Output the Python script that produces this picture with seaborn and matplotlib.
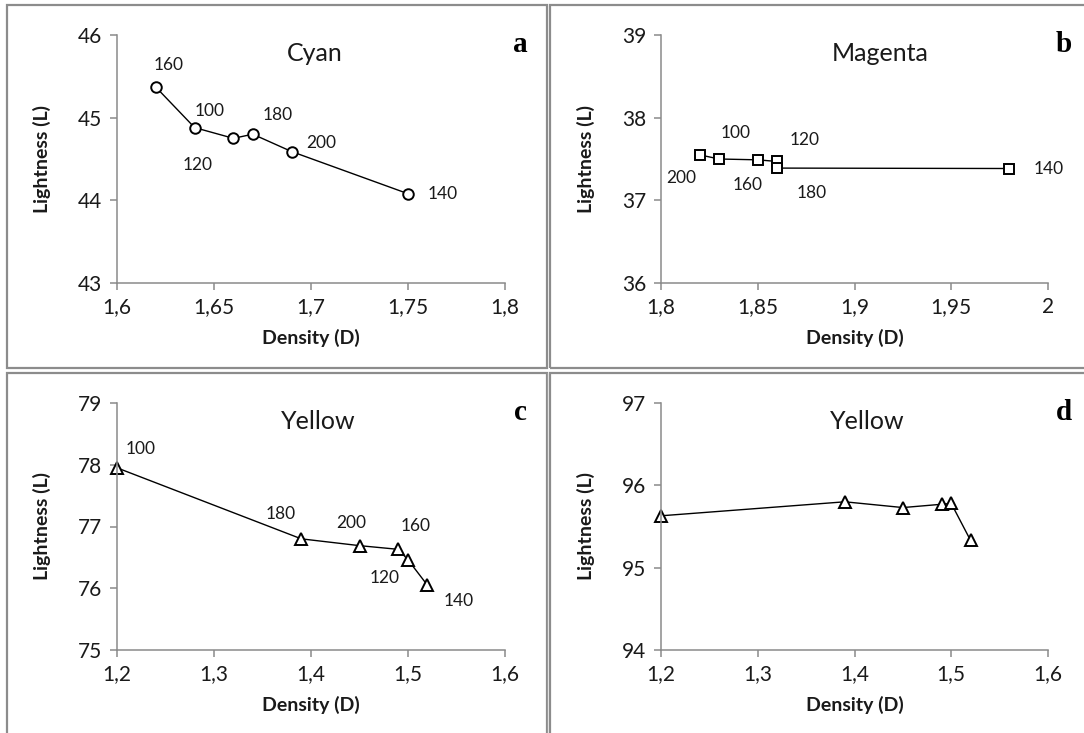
import numpy as np
import pandas as pd
import matplotlib
matplotlib.use("Agg")
import matplotlib.pyplot as plt
import seaborn as sns
from matplotlib.patches import Rectangle
from matplotlib.lines import Line2D

# ---------------- data ----------------
cyan_density = [1.62, 1.64, 1.66, 1.67, 1.69, 1.75]
cyan_lightness = [45.37, 44.88, 44.75, 44.80, 44.59, 44.08]
cyan_labels = ["160", "100", "120", "180", "200", "140"]

magenta_density = [1.82, 1.83, 1.85, 1.86, 1.86, 1.98]
magenta_lightness = [37.55, 37.50, 37.49, 37.47, 37.39, 37.385]
magenta_labels = ["200", "100", "160", "120", "180", "140"]

yellow_c_density = [1.20, 1.39, 1.45, 1.49, 1.50, 1.52]
yellow_c_lightness = [77.95, 76.80, 76.69, 76.63, 76.46, 76.05]
yellow_c_labels = ["100", "180", "200", "160", "120", "140"]

yellow_d_density = [1.20, 1.39, 1.45, 1.49, 1.50, 1.52]
yellow_d_lightness = [95.63, 95.80, 95.73, 95.77, 95.78, 95.33]

cyan_xticks = [1.6, 1.65, 1.7, 1.75, 1.8]
cyan_xticklabels = ["1,6", "1,65", "1,7", "1,75", "1,8"]
cyan_yticks = [43, 44, 45, 46]
magenta_xticks = [1.8, 1.85, 1.9, 1.95, 2.0]
magenta_xticklabels = ["1,8", "1,85", "1,9", "1,95", "2"]
magenta_yticks = [36, 37, 38, 39]
yellow_xticks = [1.2, 1.3, 1.4, 1.5, 1.6]
yellow_xticklabels = ["1,2", "1,3", "1,4", "1,5", "1,6"]
yellow_c_yticks = [75, 76, 77, 78, 79]
yellow_d_yticks = [94, 95, 96, 97]

panel_titles = ["Cyan", "Magenta", "Yellow", "Yellow"]
panel_letters = ["a", "b", "c", "d"]

# label offsets (pixels: dx right, dy up)
cyan_offsets = [(13, 22), (15, 17), (-36, -27), (25, 19), (30, 9), (35, 0)]
magenta_offsets = [(-18, -23), (17, 26), (-10, -25), (28, 21), (35, -25), (39, 0)]
yellow_c_offsets = [(24, 19), (-21, 25), (-8, 23), (17, 23), (-23, -18), (31, -16)]

# ---------------- style ----------------
sns.set_theme(style="white")
plt.rcParams["font.family"] = ["Lato", "DejaVu Sans"]

W, H = 1084, 733
fig = plt.figure(figsize=(W / 100, H / 100), dpi=100)

def fx(px):
    return px / W

def fy(py):
    return 1 - py / H

GRAY = "#8a8a8a"
px2pt = 0.72

# panel frames
frame_kw = dict(transform=fig.transFigure, fill=False, edgecolor="#8c8c8c", linewidth=1.6, zorder=0)
fig.add_artist(Rectangle((fx(7), fy(368)), fx(547) - fx(7), fy(5) - fy(368), **frame_kw))
fig.add_artist(Rectangle((fx(550), fy(368)), fx(1100) - fx(550), fy(5) - fy(368), **frame_kw))
fig.add_artist(Rectangle((fx(7), fy(745)), fx(547) - fx(7), fy(373) - fy(745), **frame_kw))
fig.add_artist(Rectangle((fx(550), fy(745)), fx(1100) - fx(550), fy(373) - fy(745), **frame_kw))

def make_ax(left, right, top, bottom):
    return fig.add_axes([fx(left), fy(bottom), fx(right) - fx(left), fy(top) - fy(bottom)])

ax_a = make_ax(117, 505, 35, 283)
ax_b = make_ax(661, 1048, 35, 283)
ax_c = make_ax(117, 505, 403, 650)
ax_d = make_ax(661, 1048, 403, 650)

specs = [
    (ax_a, cyan_density, cyan_lightness, cyan_labels, cyan_offsets, "o", 7.6,
     (1.6, 1.8), cyan_xticks, cyan_xticklabels, (43, 46), cyan_yticks, 0.51),
    (ax_b, magenta_density, magenta_lightness, magenta_labels, magenta_offsets, "s", 7.2,
     (1.8, 2.0), magenta_xticks, magenta_xticklabels, (36, 39), magenta_yticks, 0.566),
    (ax_c, yellow_c_density, yellow_c_lightness, yellow_c_labels, yellow_c_offsets, "^", 8.0,
     (1.2, 1.6), yellow_xticks, yellow_xticklabels, (75, 79), yellow_c_yticks, 0.518),
    (ax_d, yellow_d_density, yellow_d_lightness, None, None, "^", 8.0,
     (1.2, 1.6), yellow_xticks, yellow_xticklabels, (94, 97), yellow_d_yticks, 0.532),
]

for i, (ax, xs, ys, labs, offs, mk, ms, xlim, xt, xtl, ylim, yt, tx) in enumerate(specs):
    df = pd.DataFrame({"Density (D)": xs, "Lightness (L)": ys})
    sns.lineplot(data=df, x="Density (D)", y="Lightness (L)", ax=ax, sort=False,
                 estimator=None, color="black", linewidth=1.0, marker=mk,
                 markersize=ms, markerfacecolor="white", markeredgecolor="black",
                 markeredgewidth=1.4)
    ax.set_xlim(*xlim)
    ax.set_ylim(*ylim)
    ax.set_xticks(xt)
    ax.set_xticklabels(xtl)
    ax.set_yticks(yt)
    ax.set_yticklabels([str(v) for v in yt])
    for line in ax.lines:
        line.set_clip_on(False)
    sns.despine(ax=ax)
    for s in ("left", "bottom"):
        ax.spines[s].set_color(GRAY)
        ax.spines[s].set_linewidth(1.1)
    ax.tick_params(axis="both", direction="out", length=4.8, width=1.1, color=GRAY,
                   labelsize=15, labelcolor="#1a1a1a", left=True, bottom=True)
    ax.tick_params(axis="y", pad=6)
    ax.tick_params(axis="x", pad=5.5)
    ax.set_xlabel("Density (D)", fontsize=14, fontweight="bold", labelpad=8, color="#1a1a1a")
    ax.set_ylabel("Lightness (L)", fontsize=14, fontweight="bold", labelpad=19, color="#1a1a1a")
    ax.grid(False)
    ax.patch.set_alpha(0)
    ax.text(tx, 0.927, panel_titles[i], transform=ax.transAxes, ha="center", va="center",
            fontsize=18, color="#1a1a1a")
    ax.text(1.04, 0.96, panel_letters[i], transform=ax.transAxes, ha="center", va="center",
            fontsize=21, fontweight="bold", family="Liberation Serif", color="black")
    if labs is not None:
        for x, y, lab, (dx, dy) in zip(xs, ys, labs, offs):
            ax.annotate(lab, (x, y), xytext=(dx * px2pt, dy * px2pt), textcoords="offset points",
                        ha="center", va="center", fontsize=12.5, color="#1a1a1a")

# right border of panel c
fig.add_artist(Line2D([fx(547), fx(547)], [fy(373), fy(745)], transform=fig.transFigure,
                      color="#9a9a9a", linewidth=0.8))

fig.savefig("out.png", dpi=100)
